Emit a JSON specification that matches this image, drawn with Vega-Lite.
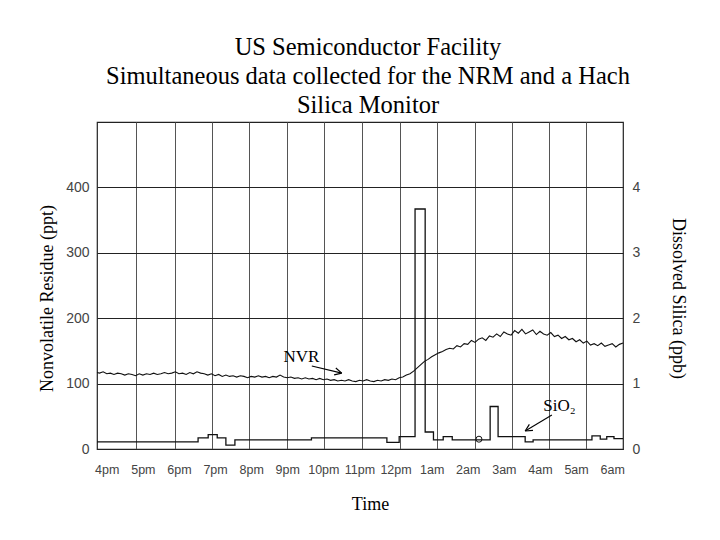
{
  "$schema": "https://vega.github.io/schema/vega-lite/v6.json",
  "width": 526,
  "height": 327,
  "autosize": {"type": "none"},
  "padding": {"left": 97, "top": 122, "right": 97, "bottom": 91},
  "background": "white",
  "title": {
    "text": ["US Semiconductor Facility", "Simultaneous data collected for the NRM and a Hach", "Silica Monitor"],
    "font": "Liberation Serif",
    "fontSize": 24.5,
    "fontWeight": "normal",
    "color": "#000",
    "lineHeight": 29.3,
    "anchor": "middle",
    "baseline": "bottom",
    "offset": 4,
    "dx": 8,
    "dy": 25,
    "frame": "group"
  },
  "config": {
    "view": {"stroke": "#222", "strokeWidth": 1.2},
    "axis": {
      "labelFont": "Liberation Sans",
      "labelFontSize": 14,
      "labelColor": "#444",
      "labelOverlap": false,
      "titleFont": "Liberation Serif",
      "titleFontSize": 18,
      "titleFontWeight": "normal",
      "titleColor": "#000"
    }
  },
  "datasets": {
    "nvr": [
      {"h": -0.27, "v": 117}, {"h": -0.2, "v": 116}, {"h": -0.1, "v": 118}, {"h": 0, "v": 115}, {"h": 0.1, "v": 116},
      {"h": 0.2, "v": 114}, {"h": 0.3, "v": 116}, {"h": 0.4, "v": 115}, {"h": 0.5, "v": 113}, {"h": 0.6, "v": 115},
      {"h": 0.7, "v": 114}, {"h": 0.8, "v": 112}, {"h": 0.9, "v": 115}, {"h": 1.0, "v": 113}, {"h": 1.1, "v": 115},
      {"h": 1.2, "v": 114}, {"h": 1.3, "v": 116}, {"h": 1.4, "v": 114}, {"h": 1.5, "v": 115}, {"h": 1.6, "v": 117},
      {"h": 1.7, "v": 115}, {"h": 1.8, "v": 116}, {"h": 1.9, "v": 118}, {"h": 2.0, "v": 115}, {"h": 2.1, "v": 116},
      {"h": 2.2, "v": 114}, {"h": 2.3, "v": 117}, {"h": 2.4, "v": 115}, {"h": 2.5, "v": 118}, {"h": 2.6, "v": 116},
      {"h": 2.7, "v": 115}, {"h": 2.8, "v": 113}, {"h": 2.9, "v": 115}, {"h": 3.0, "v": 112}, {"h": 3.1, "v": 114},
      {"h": 3.2, "v": 111}, {"h": 3.3, "v": 113}, {"h": 3.4, "v": 111}, {"h": 3.5, "v": 112}, {"h": 3.6, "v": 110},
      {"h": 3.7, "v": 112}, {"h": 3.8, "v": 111}, {"h": 3.9, "v": 109}, {"h": 4.0, "v": 111}, {"h": 4.1, "v": 110},
      {"h": 4.2, "v": 112}, {"h": 4.3, "v": 110}, {"h": 4.4, "v": 111}, {"h": 4.5, "v": 109}, {"h": 4.6, "v": 111},
      {"h": 4.7, "v": 110}, {"h": 4.8, "v": 113}, {"h": 4.9, "v": 110}, {"h": 5.0, "v": 109}, {"h": 5.1, "v": 110},
      {"h": 5.2, "v": 108}, {"h": 5.3, "v": 109}, {"h": 5.4, "v": 107}, {"h": 5.5, "v": 109}, {"h": 5.6, "v": 107},
      {"h": 5.7, "v": 108}, {"h": 5.8, "v": 106}, {"h": 5.9, "v": 108}, {"h": 6.0, "v": 106}, {"h": 6.1, "v": 107},
      {"h": 6.2, "v": 105}, {"h": 6.3, "v": 106}, {"h": 6.4, "v": 104}, {"h": 6.5, "v": 105}, {"h": 6.6, "v": 104},
      {"h": 6.7, "v": 106}, {"h": 6.8, "v": 104}, {"h": 6.9, "v": 103}, {"h": 7.0, "v": 105}, {"h": 7.1, "v": 104},
      {"h": 7.2, "v": 106}, {"h": 7.3, "v": 104}, {"h": 7.4, "v": 103}, {"h": 7.5, "v": 105}, {"h": 7.6, "v": 104},
      {"h": 7.7, "v": 106}, {"h": 7.8, "v": 105}, {"h": 7.9, "v": 107}, {"h": 8.0, "v": 106}, {"h": 8.1, "v": 109},
      {"h": 8.2, "v": 110}, {"h": 8.3, "v": 113}, {"h": 8.4, "v": 115}, {"h": 8.5, "v": 119}, {"h": 8.6, "v": 124},
      {"h": 8.7, "v": 129}, {"h": 8.8, "v": 134}, {"h": 8.9, "v": 137}, {"h": 9.0, "v": 141}, {"h": 9.1, "v": 144},
      {"h": 9.2, "v": 147}, {"h": 9.3, "v": 149}, {"h": 9.4, "v": 152}, {"h": 9.5, "v": 154}, {"h": 9.6, "v": 153},
      {"h": 9.7, "v": 158}, {"h": 9.8, "v": 156}, {"h": 9.9, "v": 161}, {"h": 10.0, "v": 160}, {"h": 10.1, "v": 166},
      {"h": 10.2, "v": 163}, {"h": 10.3, "v": 168}, {"h": 10.4, "v": 170}, {"h": 10.5, "v": 166}, {"h": 10.6, "v": 173},
      {"h": 10.7, "v": 171}, {"h": 10.8, "v": 176}, {"h": 10.9, "v": 172}, {"h": 11.0, "v": 179}, {"h": 11.1, "v": 176},
      {"h": 11.2, "v": 174}, {"h": 11.3, "v": 181}, {"h": 11.4, "v": 177}, {"h": 11.5, "v": 183}, {"h": 11.6, "v": 176},
      {"h": 11.7, "v": 179}, {"h": 11.8, "v": 182}, {"h": 11.9, "v": 175}, {"h": 12.0, "v": 180}, {"h": 12.1, "v": 176},
      {"h": 12.2, "v": 174}, {"h": 12.3, "v": 178}, {"h": 12.4, "v": 172}, {"h": 12.5, "v": 174}, {"h": 12.6, "v": 169},
      {"h": 12.7, "v": 172}, {"h": 12.8, "v": 167}, {"h": 12.9, "v": 169}, {"h": 13.0, "v": 164}, {"h": 13.1, "v": 167},
      {"h": 13.2, "v": 162}, {"h": 13.3, "v": 165}, {"h": 13.4, "v": 159}, {"h": 13.5, "v": 161}, {"h": 13.6, "v": 158},
      {"h": 13.7, "v": 162}, {"h": 13.8, "v": 157}, {"h": 13.9, "v": 159}, {"h": 14.0, "v": 161}, {"h": 14.1, "v": 156},
      {"h": 14.2, "v": 160}, {"h": 14.3, "v": 162}
    ],
    "silica": [
      {"h": -0.27, "s": 0.11}, {"h": 2.53, "s": 0.17}, {"h": 2.81, "s": 0.22}, {"h": 3.06, "s": 0.17},
      {"h": 3.3, "s": 0.06}, {"h": 3.55, "s": 0.14}, {"h": 5.67, "s": 0.17}, {"h": 7.76, "s": 0.1},
      {"h": 8.1, "s": 0.19}, {"h": 8.54, "s": 3.67}, {"h": 8.82, "s": 0.26}, {"h": 9.05, "s": 0.14},
      {"h": 9.32, "s": 0.19}, {"h": 9.57, "s": 0.14}, {"h": 10.62, "s": 0.65}, {"h": 10.84, "s": 0.19},
      {"h": 11.59, "s": 0.11}, {"h": 11.81, "s": 0.14}, {"h": 13.44, "s": 0.2}, {"h": 13.67, "s": 0.15},
      {"h": 13.85, "s": 0.19}, {"h": 14.05, "s": 0.16}, {"h": 14.3, "s": 0.16}
    ],
    "marker": [{"h": 10.31, "s": 0.15}],
    "notes": [
      {"label": "NVR", "h": 5.39, "v": 140},
      {"label": "SiO₂", "h": 12.54, "v": 65}
    ],
    "arrows": [
      {"name": "NVR", "h": 5.68, "v": 127, "h2": 6.51, "v2": 116},
      {"name": "SiO2", "h": 12.33, "v": 52, "h2": 11.59, "v2": 27.5}
    ]
  },
  "layer": [
    {
      "layer": [
        {
          "data": {"name": "nvr"},
          "mark": {"type": "line", "color": "#111", "strokeWidth": 1.1},
          "encoding": {
            "x": {
              "field": "h", "type": "quantitative",
              "scale": {"domain": [-0.27, 14.3], "nice": false, "zero": false},
              "axis": {
                "orient": "bottom",
                "values": [0, 1, 2, 3, 4, 5, 6, 7, 8, 9, 10, 11, 12, 13, 14],
                "tickCount": 30,
                "labelExpr": "['4pm','5pm','6pm','7pm','8pm','9pm','10pm','11pm','12pm','1am','2am','3am','4am','5am','6am'][datum.value]",
                "labelOverlap": false,
                "grid": false, "ticks": false, "domain": false,
                "labelPadding": 14, "labelFontSize": 12.5,
                "title": "Time", "titleX": 273, "titleY": 60, "titleBaseline": "alphabetic"
              }
            },
            "y": {
              "field": "v", "type": "quantitative",
              "scale": {"domain": [0, 500], "nice": false},
              "axis": {
                "orient": "left",
                "values": [0, 100, 200, 300, 400],
                "grid": true, "gridColor": "#222", "gridWidth": 1.2,
                "ticks": false, "domain": false, "labelPadding": 8,
                "title": "Nonvolatile Residue (ppt)",
                "titleX": -41, "titleY": 176, "titleBaseline": "bottom", "titleAngle": -90
              }
            }
          }
        },
        {
          "data": {"name": "notes"},
          "mark": {"type": "text", "font": "Liberation Serif", "fontSize": 17, "color": "#000", "align": "center", "baseline": "middle"},
          "encoding": {
            "x": {"field": "h", "type": "quantitative"},
            "y": {"field": "v", "type": "quantitative"},
            "text": {"field": "label"}
          }
        },
        {
          "data": {"name": "arrows"},
          "mark": {"type": "rule", "color": "#000", "strokeWidth": 1.1},
          "encoding": {
            "x": {"field": "h", "type": "quantitative"},
            "y": {"field": "v", "type": "quantitative"},
            "x2": {"field": "h2"},
            "y2": {"field": "v2"}
          }
        },
        {
          "data": {"name": "arrows"},
          "transform": [{"filter": "datum.name === 'NVR'"}],
          "mark": {"type": "point", "shape": "M0,0L-1,-0.5M0,0L-1,0.5", "filled": false, "stroke": "#000", "strokeWidth": 1.2, "size": 196, "angle": 14, "opacity": 1},
          "encoding": {
            "x": {"field": "h2", "type": "quantitative"},
            "y": {"field": "v2", "type": "quantitative"}
          }
        },
        {
          "data": {"name": "arrows"},
          "transform": [{"filter": "datum.name === 'SiO2'"}],
          "mark": {"type": "point", "shape": "M0,0L-1,-0.5M0,0L-1,0.5", "filled": false, "stroke": "#000", "strokeWidth": 1.2, "size": 196, "angle": 149, "opacity": 1},
          "encoding": {
            "x": {"field": "h2", "type": "quantitative"},
            "y": {"field": "v2", "type": "quantitative"}
          }
        }
      ]
    },
    {
      "layer": [
        {
          "data": {"name": "silica"},
          "mark": {"type": "line", "color": "#111", "strokeWidth": 1.3, "interpolate": "step-after"},
          "encoding": {
            "x": {
              "field": "h", "type": "quantitative",
              "axis": {
                "orient": "top",
                "values": [0.81, 1.89, 2.91, 3.94, 4.99, 6.02, 7.08, 8.13, 9.16, 10.19, 11.23, 12.26, 13.28],
                "tickCount": 30,
                "grid": true, "gridColor": "#555", "gridWidth": 1,
                "labels": false, "ticks": false, "domain": false, "title": null
              }
            },
            "y": {
              "field": "s", "type": "quantitative",
              "scale": {"domain": [0, 5], "nice": false},
              "axis": {
                "orient": "right",
                "values": [0, 1, 2, 3, 4],
                "format": "d",
                "grid": false, "ticks": false, "domain": false, "labelPadding": 9,
                "title": "Dissolved Silica (ppb)",
                "titleX": 45, "titleY": 176, "titleBaseline": "bottom", "titleAngle": 90
              }
            }
          }
        },
        {
          "data": {"name": "marker"},
          "mark": {"type": "point", "shape": "circle", "filled": false, "stroke": "#111", "strokeWidth": 1, "size": 36, "opacity": 1},
          "encoding": {
            "x": {"field": "h", "type": "quantitative"},
            "y": {"field": "s", "type": "quantitative"}
          }
        }
      ]
    }
  ],
  "resolve": {"scale": {"y": "independent"}, "axis": {"x": "independent", "y": "independent"}}
}
